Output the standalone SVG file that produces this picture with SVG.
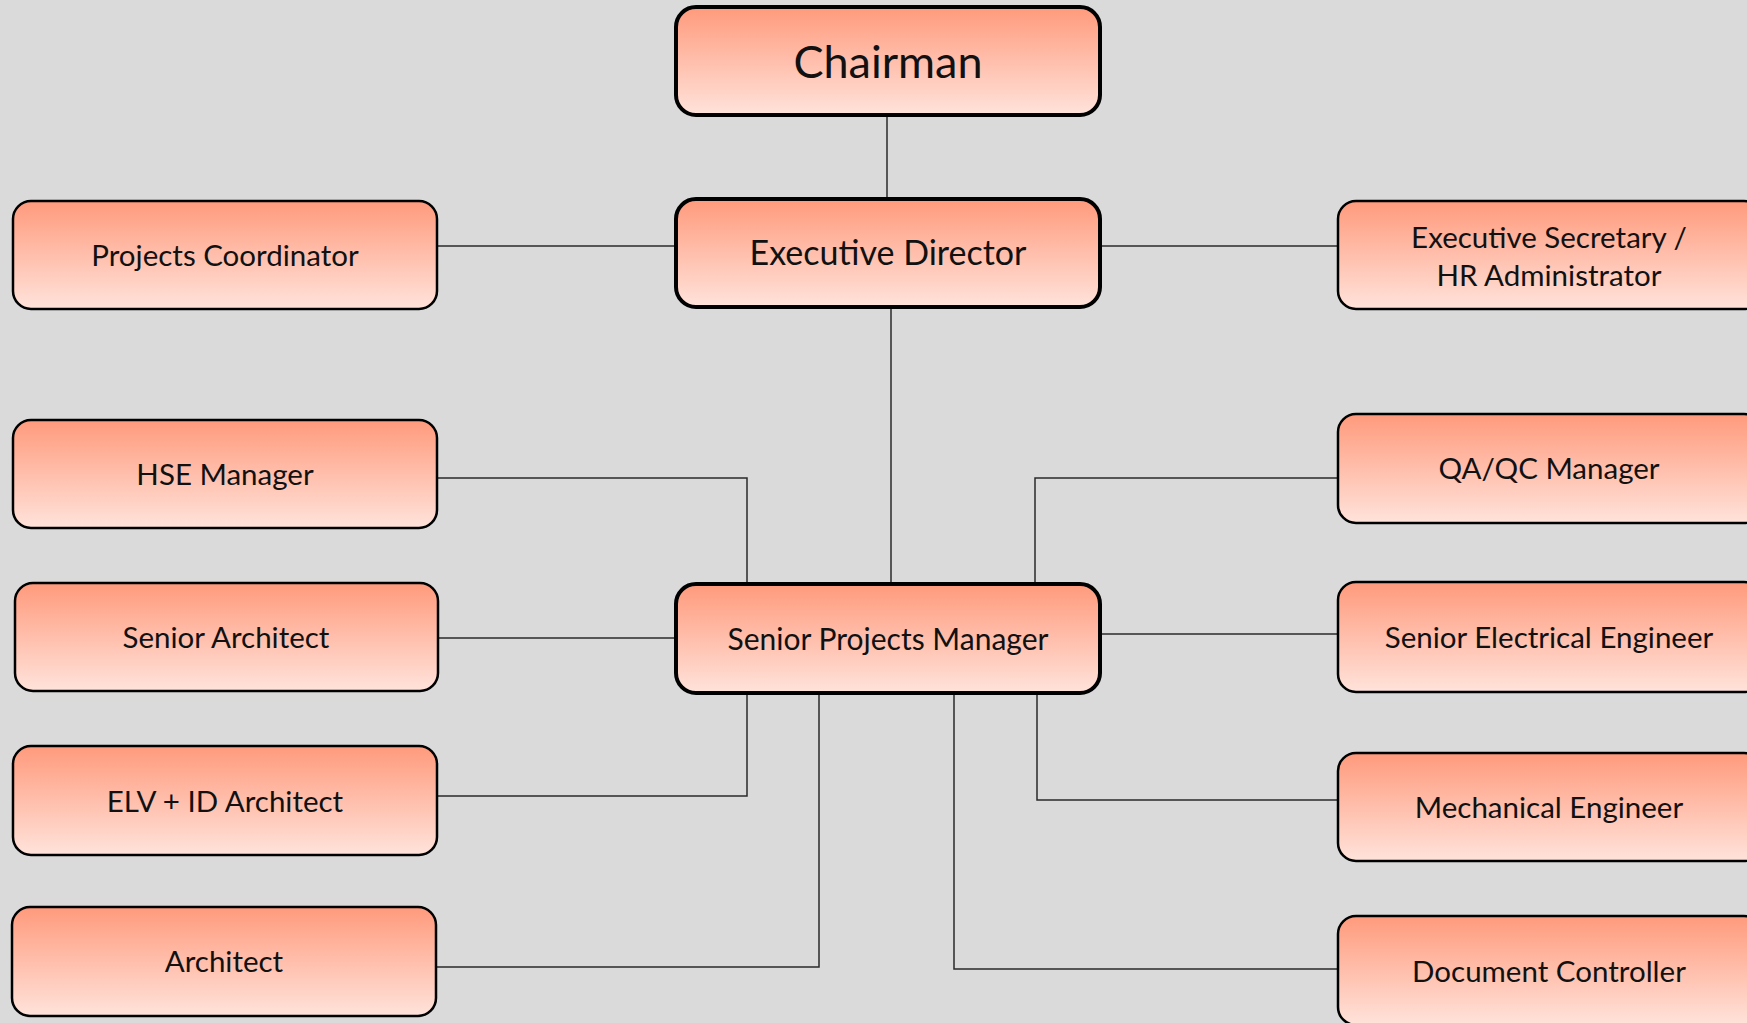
<svg xmlns="http://www.w3.org/2000/svg" width="1747" height="1023" viewBox="0 0 1747 1023">
<defs>
<linearGradient id="g" x1="0" y1="0" x2="0" y2="1">
<stop offset="0" stop-color="#FF9A7C"/>
<stop offset="1" stop-color="#FFE3DB"/>
</linearGradient>
<style>
.box{fill:url(#g);stroke:#000;stroke-width:2.5}
.main{fill:url(#g);stroke:#000;stroke-width:4}
.t{font-family:Lato,"Open Sans",sans-serif;fill:#111;text-anchor:middle;font-size:29.5px}
.c{fill:none;stroke:#2a2a2a;stroke-width:1.5}
</style>
</defs>
<rect width="1747" height="1023" fill="#DADADA"/>
<g id="connectors">
<path class="c" d="M887,115 V198"/>
<path class="c" d="M891,307 V583"/>
<path class="c" d="M437,246 H676"/>
<path class="c" d="M1100,246 H1338"/>
<path class="c" d="M437,478 H747 V583"/>
<path class="c" d="M1338,478 H1035 V583"/>
<path class="c" d="M438,638 H676"/>
<path class="c" d="M1100,634 H1338"/>
<path class="c" d="M747,693 V796 H437"/>
<path class="c" d="M819,693 V967 H436"/>
<path class="c" d="M1037,693 V800 H1338"/>
<path class="c" d="M954,693 V969 H1338"/>
</g>
<g id="chairman"><rect class="main" x="676" y="7" width="424" height="108" rx="20"/><text class="t" x="888" y="78" style="font-size:45px">Chairman</text></g>
<g id="executive-director"><rect class="main" x="676" y="199" width="424" height="108" rx="20"/><text class="t" x="888" y="265" style="font-size:34px">Executive Director</text></g>
<g id="senior-projects-manager"><rect class="main" x="676" y="584" width="424" height="109" rx="20"/><text class="t" x="888" y="650" style="font-size:30px">Senior Projects Manager</text></g>
<g id="projects-coordinator"><rect class="box" x="13" y="201" width="424" height="108" rx="18"/><text class="t" x="225" y="266">Projects Coordinator</text></g>
<g id="hse-manager"><rect class="box" x="13" y="420" width="424" height="108" rx="18"/><text class="t" x="225" y="485">HSE Manager</text></g>
<g id="senior-architect"><rect class="box" x="15" y="583" width="423" height="108" rx="18"/><text class="t" x="226" y="648">Senior Architect</text></g>
<g id="elv-id-architect"><rect class="box" x="13" y="746" width="424" height="109" rx="18"/><text class="t" x="225" y="812">ELV + ID Architect</text></g>
<g id="architect"><rect class="box" x="12" y="907" width="424" height="109" rx="18"/><text class="t" x="224" y="972">Architect</text></g>
<g id="executive-secretary"><rect class="box" x="1338" y="201" width="424" height="108" rx="18"/><text class="t" x="1549" y="248">Executive Secretary /</text><text class="t" x="1549" y="286">HR Administrator</text></g>
<g id="qaqc-manager"><rect class="box" x="1338" y="414" width="424" height="109" rx="18"/><text class="t" x="1549" y="479">QA/QC Manager</text></g>
<g id="senior-electrical-engineer"><rect class="box" x="1338" y="582" width="424" height="110" rx="18"/><text class="t" x="1549" y="648">Senior Electrical Engineer</text></g>
<g id="mechanical-engineer"><rect class="box" x="1338" y="753" width="424" height="108" rx="18"/><text class="t" x="1549" y="818">Mechanical Engineer</text></g>
<g id="document-controller"><rect class="box" x="1338" y="916" width="424" height="109" rx="18"/><text class="t" x="1549" y="982">Document Controller</text></g>
</svg>
